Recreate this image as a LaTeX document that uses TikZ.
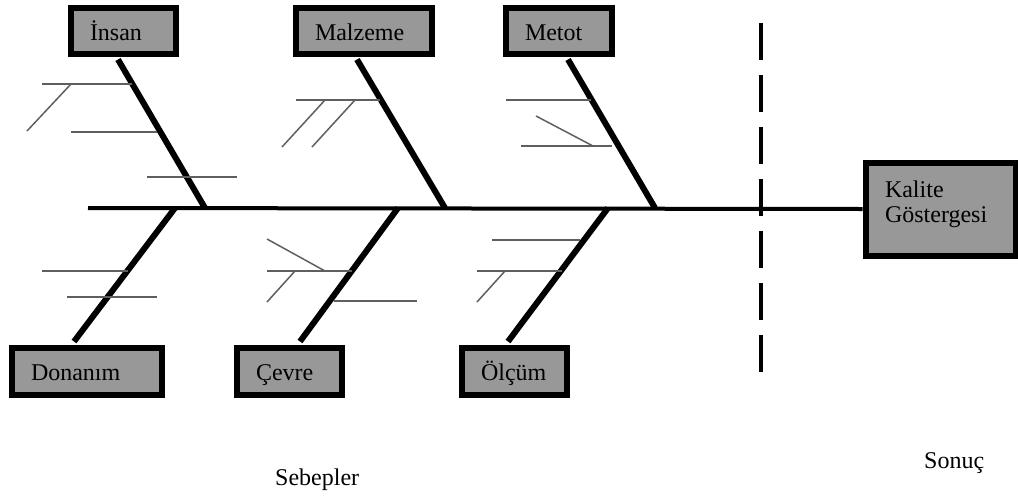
\documentclass[tikz,border=0pt]{standalone}
\usepackage{fontspec}
\setmainfont{Liberation Serif}
\usetikzlibrary{backgrounds}
\definecolor{boxgray}{RGB}{152,152,152}
\definecolor{twiggray}{RGB}{95,95,95}
\begin{document}
\begin{tikzpicture}[x=1pt,y=-1pt,
  cause/.style={draw=black, line width=6pt, fill=boxgray, inner xsep=19.5pt, inner ysep=0pt,
    align=left, font=\fontsize{24}{25}\selectfont, text height=20pt, text depth=1pt},
  effect/.style={draw=black, line width=6pt, fill=boxgray, inner xsep=19.5pt, inner ysep=0pt,
    align=left, font=\fontsize{24}{25}\selectfont},
  spine/.style={line width=4pt},
  bone/.style={line width=6pt},
  twig/.style={line width=1.5pt, draw=twiggray},
  divider/.style={line width=4pt, dash pattern=on 37pt off 15pt},
  caption/.style={anchor=base west, font=\fontsize{24}{25}\selectfont, inner sep=0pt}
]
\useasboundingbox (0,0) rectangle (1018,496);

% cause categories
\node[cause, minimum width=105pt, minimum height=46pt, text width=66pt]  (insan)   at (123,30.5)  {İnsan};
\node[cause, minimum width=136pt, minimum height=46pt, text width=97pt]  (malzeme) at (363.5,30.5) {Malzeme};
\node[cause, minimum width=106pt, minimum height=46pt, text width=67pt]  (metot)   at (558.5,30.5) {Metot};
\node[cause, minimum width=150pt, minimum height=47pt, text width=111pt] (donanim) at (86.5,371)  {Donanım};
\node[cause, minimum width=105pt, minimum height=47pt, text width=66pt]  (cevre)   at (289,371)   {Çevre};
\node[cause, minimum width=105pt, minimum height=47pt, text width=66pt]  (olcum)   at (514,371)   {Ölçüm};

% effect
\node[effect, minimum width=150pt, minimum height=93pt, text width=111pt] (kalite) at (940.5,209)
  {Kalite\\Göstergesi\rule[-15pt]{0pt}{0pt}};

% joints on the spine
\coordinate (tail) at (88,208);
\coordinate (j1) at (205,208);
\coordinate (j2) at (445,208);
\coordinate (j3) at (655,208);
\coordinate (j4) at (175,208);
\coordinate (j5) at (398,208);
\coordinate (j6) at (608,208);
\coordinate (dtop) at (761,23);
\coordinate (dbot) at (761,372);

\begin{scope}[on background layer]
  % spine and divider
  \draw[spine] (tail) -- (kalite.west);
  \draw[divider] (dtop) -- (dbot);
  % main bones
  \draw[bone] ([xshift=-5pt,yshift=-3pt]insan.south) -- (j1);
  \draw[bone] ([xshift=-6.5pt,yshift=-3pt]malzeme.south) -- (j2);
  \draw[bone] ([xshift=9.5pt,yshift=-3pt]metot.south) -- (j3);
  \draw[bone] ([xshift=-12.5pt,yshift=3pt]donanim.north) -- (j4);
  \draw[bone] ([xshift=11pt,yshift=3pt]cevre.north) -- (j5);
  \draw[bone] ([xshift=-6pt,yshift=3pt]olcum.north) -- (j6);
\end{scope}

% sub-causes
\draw[twig] (42,84) -- (132,84);
\draw[twig] (71,84) -- (27,131);
\draw[twig] (71,132) -- (157,132);
\draw[twig] (147,177) -- (237,177);

\draw[twig] (296,100) -- (380,100);
\draw[twig] (325,100) -- (282,147);
\draw[twig] (355,100) -- (312,147);

\draw[twig] (506,100) -- (591,100);
\draw[twig] (521,146) -- (612,146);
\draw[twig] (536,116) -- (593,146);

\draw[twig] (42,271) -- (128,271);
\draw[twig] (67,297) -- (157,297);

\draw[twig] (267,271) -- (352,271);
\draw[twig] (267,239) -- (325,271);
\draw[twig] (295,271) -- (267,302);
\draw[twig] (334,301) -- (417,301);

\draw[twig] (492,240) -- (580,240);
\draw[twig] (477,271) -- (562,271);
\draw[twig] (505,271) -- (477,302);

% captions
\node[caption] (sebepler) at (275,485) {Sebepler};
\node[caption] (sonuc) at (924,468) {Sonuç};
\end{tikzpicture}
\end{document}
